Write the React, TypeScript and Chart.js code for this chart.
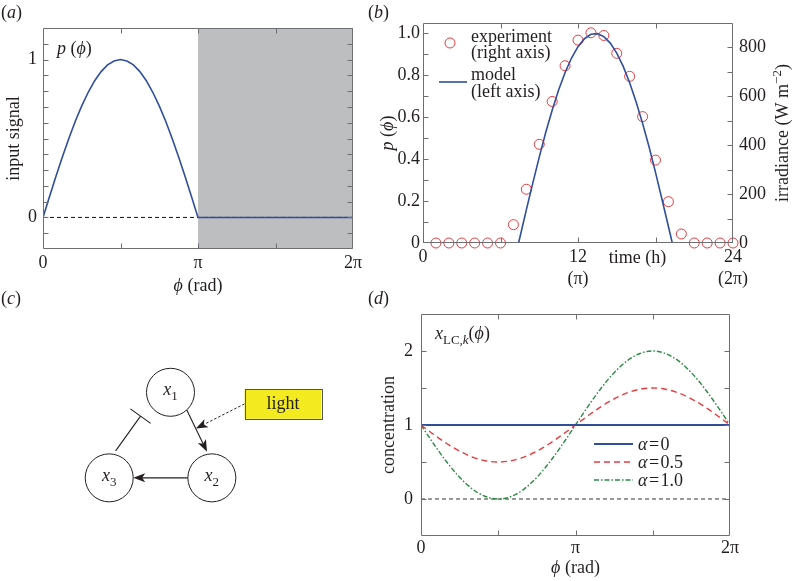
import React, { useEffect, useRef } from 'react';
import { Chart, registerables } from 'chart.js';
Chart.register(...registerables);

const SERIF = '"Liberation Serif", "Times New Roman", serif';
const INK = '#231f20';
const FRAME = '#6d6e71';
const BLUE = '#2f4e9c';
const RED = '#e63b3f';
const GREEN = '#2a8a43';
const SHADE = '#bcbec0';
const PHI = 'ϕ';

// ---------------- (a) input signal (phi in units of pi) ----------------
const phiA = [0, 0.0417, 0.0833, 0.125, 0.1667, 0.2083, 0.25, 0.2917, 0.3333, 0.375, 0.4167, 0.4583, 0.5, 0.5417, 0.5833, 0.625, 0.6667, 0.7083, 0.75, 0.7917, 0.8333, 0.875, 0.9167, 0.9583, 1, 2];
const signalA = [0, 0.131, 0.259, 0.383, 0.5, 0.609, 0.707, 0.793, 0.866, 0.924, 0.966, 0.991, 1, 0.991, 0.966, 0.924, 0.866, 0.793, 0.707, 0.609, 0.5, 0.383, 0.259, 0.131, 0, 0];
const shadeA = [1, 2];
const aXTickVals = [0, 1, 2];
const aXTickText = ['0', 'π', '2π'];
const aYTickVals = [0, 1];
const aYTickText = ['0', '1'];

// ---------------- (b) experiment vs model ----------------
const hoursExp = [1, 2, 3, 4, 5, 6, 7, 8, 9, 10, 11, 12, 13, 14, 15, 16, 17, 18, 19, 20, 21, 22, 23, 24];
const irradianceExp = [0, 0, 0, 0, 0, 0, 75, 220, 404, 579, 725, 830, 860, 849, 776, 682, 517, 339, 169, 37, 0, 0, 0, 0];
const hoursModel = [0, 7.4, 7.5, 8, 8.5, 9, 9.5, 10, 10.5, 11, 11.5, 12, 12.5, 13, 13.5, 14, 14.5, 15, 15.5, 16, 16.5, 17, 17.5, 18, 18.5, 19, 19.3, 24];
const pModel = [0, 0, 0.026, 0.158, 0.286, 0.41, 0.527, 0.634, 0.73, 0.814, 0.883, 0.937, 0.975, 0.996, 0.999, 0.985, 0.954, 0.906, 0.843, 0.765, 0.673, 0.571, 0.459, 0.337, 0.209, 0.079, 0, 0];
const bXTickVals = [0, 12, 24];
const bXTickText = [['0'], ['12', '(π)'], ['24', '(2π)']];
const bYTickVals = [0, 0.2, 0.4, 0.6, 0.8, 1.0];
const bYTickText = ['0', '0.2', '0.4', '0.6', '0.8', '1.0'];
const bY2TickVals = [0, 200, 400, 600, 800];
const bY2TickText = ['0', '200', '400', '600', '800'];

// ---------------- (c) network diagram ----------------
const nodeX = [0.597, 1, 0];
const nodeY = [0.864, 0, 0];
const nodeSub = ['1', '2', '3'];
const edgeFrom = [0, 1, 2];
const edgeTo = [1, 2, 0];
const edgeKind = ['activate', 'activate', 'inhibit'];
const lightBox = { x: 1.692, y: 0.747, w: 0.747, h: 0.302, label: 'light' };

// ---------------- (d) limit cycles ----------------
const phiD = [0, 0.0833, 0.1667, 0.25, 0.3333, 0.4167, 0.5, 0.5833, 0.6667, 0.75, 0.8333, 0.9167, 1, 1.0833, 1.1667, 1.25, 1.3333, 1.4167, 1.5, 1.5833, 1.6667, 1.75, 1.8333, 1.9167, 2];
const alpha0 = [1, 1, 1, 1, 1, 1, 1, 1, 1, 1, 1, 1, 1, 1, 1, 1, 1, 1, 1, 1, 1, 1, 1, 1, 1];
const alpha05 = [1, 0.871, 0.75, 0.646, 0.567, 0.517, 0.5, 0.517, 0.567, 0.646, 0.75, 0.871, 1, 1.129, 1.25, 1.354, 1.433, 1.483, 1.5, 1.483, 1.433, 1.354, 1.25, 1.129, 1];
const alpha10 = [1, 0.741, 0.5, 0.293, 0.134, 0.034, 0, 0.034, 0.134, 0.293, 0.5, 0.741, 1, 1.259, 1.5, 1.707, 1.866, 1.966, 2, 1.966, 1.866, 1.707, 1.5, 1.259, 1];
const alphaLabels = ['0', '0.5', '1.0'];
const dXTickVals = [0, 1, 2];
const dXTickText = ['0', 'π', '2π'];
const dYTickVals = [0, 1, 2];
const dYTickText = ['0', '1', '2'];

// ---------------- helpers ----------------
type Seg = { t: string; it?: boolean; sub?: boolean; sup?: boolean };
const fnt = (size: number, it?: boolean) => `${it ? 'italic ' : ''}${size}px ${SERIF}`;
const segSize = (s: Seg, size: number) => (s.sub || s.sup ? Math.round(size * 0.7) : size);

function drawRich(ctx: any, segs: Seg[], x: number, y: number, size = 18, align = 'left', rot = 0, color = INK) {
  ctx.save();
  ctx.translate(x, y);
  if (rot) ctx.rotate(rot);
  let w = 0;
  for (const s of segs) {
    ctx.font = fnt(segSize(s, size), s.it);
    w += ctx.measureText(s.t).width;
  }
  let cx = align === 'center' ? -w / 2 : align === 'right' ? -w : 0;
  ctx.fillStyle = color;
  ctx.textAlign = 'left';
  ctx.textBaseline = 'alphabetic';
  const base = size * 0.33;
  for (const s of segs) {
    ctx.font = fnt(segSize(s, size), s.it);
    const dy = s.sub ? size * 0.28 : s.sup ? -size * 0.4 : 0;
    ctx.fillText(s.t, cx, base + dy);
    cx += ctx.measureText(s.t).width;
  }
  ctx.restore();
}

const near = (a: number, b: number) => Math.abs(a - b) < 1e-6;
const pick = (vals: number[], texts: any[]) => (v: number) => {
  const i = vals.findIndex((u) => near(u, v));
  return i >= 0 ? texts[i] : '';
};

function framePlugin(id: string, spec: { x: string; xTop: boolean; yl?: string; ylMirror?: boolean; yr?: string }) {
  return {
    id,
    afterDatasetsDraw(chart: any) {
      const { ctx, chartArea: ca, scales } = chart;
      const L = Math.round(ca.left) + 0.5;
      const R = Math.round(ca.right) - 0.5;
      const T = Math.round(ca.top) + 0.5;
      const B = Math.round(ca.bottom) - 0.5;
      const TL = 5;
      ctx.save();
      ctx.strokeStyle = FRAME;
      ctx.lineWidth = 1;
      ctx.beginPath();
      ctx.rect(L, T, R - L, B - T);
      const xs = scales[spec.x];
      for (const t of xs.ticks) {
        const p = Math.round(xs.getPixelForValue(t.value)) + 0.5;
        if (p <= L + 1 || p >= R - 1) continue;
        ctx.moveTo(p, B);
        ctx.lineTo(p, B - TL);
        if (spec.xTop) {
          ctx.moveTo(p, T);
          ctx.lineTo(p, T + TL);
        }
      }
      if (spec.yl) {
        const ys = scales[spec.yl];
        for (const t of ys.ticks) {
          const p = Math.round(ys.getPixelForValue(t.value)) + 0.5;
          if (p <= T + 1 || p >= B - 1) continue;
          ctx.moveTo(L, p);
          ctx.lineTo(L + TL, p);
          if (spec.ylMirror) {
            ctx.moveTo(R, p);
            ctx.lineTo(R - TL, p);
          }
        }
      }
      if (spec.yr) {
        const ys = scales[spec.yr];
        for (const t of ys.ticks) {
          const p = Math.round(ys.getPixelForValue(t.value)) + 0.5;
          if (p <= T + 1 || p >= B - 1) continue;
          ctx.moveTo(R, p);
          ctx.lineTo(R - TL, p);
        }
      }
      ctx.stroke();
      ctx.restore();
    },
  };
}

const tickFont = { family: SERIF, size: 18, lineHeight: 1.2 };
const baseScale = (extra: any) => ({
  type: 'linear',
  grid: { display: false, drawTicks: false },
  border: { display: false },
  ...extra,
});
const baseOptions = (padding: any, scales: any) => ({
  responsive: false,
  animation: false,
  events: [],
  layout: { padding },
  plugins: { legend: { display: false }, tooltip: { enabled: false } },
  scales,
});

function arrowHead(ctx: any, tx: number, ty: number, ux: number, uy: number, len = 12, half = 4.5, notch = 3) {
  const nx = -uy;
  const ny = ux;
  ctx.beginPath();
  ctx.moveTo(tx, ty);
  ctx.lineTo(tx - ux * len + nx * half, ty - uy * len + ny * half);
  ctx.lineTo(tx - ux * (len - notch), ty - uy * (len - notch));
  ctx.lineTo(tx - ux * len - nx * half, ty - uy * len - ny * half);
  ctx.closePath();
  ctx.fill();
}

// ---------------- configs ----------------
function configA(): any {
  return {
    type: 'line',
    data: {
      datasets: [
        {
          data: phiA.map((x, i) => ({ x, y: signalA[i] })),
          borderColor: BLUE,
          borderWidth: 1.6,
          pointRadius: 0,
          tension: 0,
          fill: false,
        },
        {
          data: [{ x: 0, y: 0 }, { x: 2, y: 0 }],
          borderColor: '#111',
          borderWidth: 1,
          borderDash: [4, 3],
          pointRadius: 0,
          fill: false,
        },
      ],
    },
    options: baseOptions({ left: 0, right: 27, top: 28, bottom: 0 }, {
      x: baseScale({
        min: 0, max: 2,
        ticks: { stepSize: 0.5, includeBounds: false, autoSkip: false, maxRotation: 0, padding: 3, color: INK, font: tickFont, callback: pick(aXTickVals, aXTickText) },
        afterFit: (s: any) => { s.height = 51; },
      }),
      y: baseScale({
        min: -0.2, max: 1.2,
        ticks: { stepSize: 0.1, includeBounds: false, autoSkip: false, padding: 6, color: INK, font: tickFont, callback: pick(aYTickVals, aYTickText) },
        afterFit: (s: any) => { s.width = 43; },
      }),
    }),
    plugins: [
      {
        id: 'shadeA',
        beforeDatasetsDraw(chart: any) {
          const { ctx, chartArea: ca, scales } = chart;
          const x0 = scales.x.getPixelForValue(shadeA[0]);
          const x1 = scales.x.getPixelForValue(shadeA[1]);
          ctx.save();
          ctx.fillStyle = SHADE;
          ctx.fillRect(x0, ca.top, x1 - x0, ca.bottom - ca.top);
          ctx.restore();
        },
      },
      framePlugin('frameA', { x: 'x', xTop: true, yl: 'y', ylMirror: true }),
      {
        id: 'textA',
        afterDraw(chart: any) {
          const { ctx, chartArea: ca } = chart;
          drawRich(ctx, [{ t: '(' }, { t: 'a', it: true }, { t: ')' }], 1, 12);
          drawRich(ctx, [{ t: 'input signal' }], 13, (ca.top + ca.bottom) / 2, 18, 'center', -Math.PI / 2);
          drawRich(ctx, [{ t: PHI, it: true }, { t: ' (rad)' }], (ca.left + ca.right) / 2, 285, 18, 'center');
          drawRich(ctx, [{ t: 'p', it: true }, { t: ' (' }, { t: PHI, it: true }, { t: ')' }], ca.left + 14, ca.top + 20);
        },
      },
    ],
  };
}

function configB(): any {
  return {
    type: 'line',
    data: {
      datasets: [
        {
          data: hoursModel.map((x, i) => ({ x, y: pModel[i] })),
          yAxisID: 'y',
          borderColor: BLUE,
          borderWidth: 1.6,
          pointRadius: 0,
          tension: 0,
          fill: false,
        },
        {
          data: hoursExp.map((x, i) => ({ x, y: irradianceExp[i] })),
          yAxisID: 'y2',
          showLine: false,
          pointStyle: 'circle',
          pointRadius: 5,
          pointBorderWidth: 1,
          pointBorderColor: RED,
          pointBackgroundColor: 'rgba(0,0,0,0)',
          borderColor: RED,
          clip: false,
        },
      ],
    },
    options: baseOptions({ left: 0, right: 0, top: 23, bottom: 0 }, {
      x: baseScale({
        min: 0, max: 24,
        ticks: { stepSize: 6, includeBounds: false, autoSkip: false, maxRotation: 0, padding: 3, color: INK, font: { family: SERIF, size: 18, lineHeight: 1.25 }, callback: pick(bXTickVals, bXTickText) },
        afterFit: (s: any) => { s.height = 57; },
      }),
      y: baseScale({
        position: 'left',
        min: 0, max: 1.05,
        ticks: { stepSize: 0.1, includeBounds: false, autoSkip: false, padding: 3, color: INK, font: tickFont, callback: pick(bYTickVals, bYTickText) },
        afterFit: (s: any) => { s.width = 63; },
      }),
      y2: baseScale({
        position: 'right',
        min: 0, max: 900,
        ticks: { stepSize: 100, includeBounds: false, autoSkip: false, padding: 6, color: INK, font: tickFont, callback: pick(bY2TickVals, bY2TickText) },
        afterFit: (s: any) => { s.width = 59; },
      }),
    }),
    plugins: [
      framePlugin('frameB', { x: 'x', xTop: true, yl: 'y', yr: 'y2' }),
      {
        id: 'textB',
        afterDraw(chart: any) {
          const { ctx, chartArea: ca, scales } = chart;
          const cy = (ca.top + ca.bottom) / 2;
          drawRich(ctx, [{ t: '(' }, { t: 'b', it: true }, { t: ')' }], 8, 12);
          drawRich(ctx, [{ t: 'p', it: true }, { t: ' (' }, { t: PHI, it: true }, { t: ')' }], 27, cy, 18, 'center', -Math.PI / 2);
          drawRich(ctx, [{ t: 'irradiance (W m' }, { t: '−2', sup: true }, { t: ')' }], 422, cy, 18, 'center', -Math.PI / 2);
          drawRich(ctx, [{ t: 'time (h)' }], scales.x.getPixelForValue(16.6), ca.bottom + 14, 18, 'center');
          // legend
          ctx.save();
          ctx.strokeStyle = RED;
          ctx.lineWidth = 1;
          ctx.beginPath();
          ctx.arc(ca.left + 27, ca.top + 20, 5, 0, Math.PI * 2);
          ctx.stroke();
          ctx.strokeStyle = BLUE;
          ctx.lineWidth = 1.6;
          ctx.beginPath();
          ctx.moveTo(ca.left + 16, ca.top + 59);
          ctx.lineTo(ca.left + 44, ca.top + 59);
          ctx.stroke();
          ctx.restore();
          drawRich(ctx, [{ t: 'experiment' }], ca.left + 48, ca.top + 13);
          drawRich(ctx, [{ t: '(right axis)' }], ca.left + 48, ca.top + 29);
          drawRich(ctx, [{ t: 'model' }], ca.left + 48, ca.top + 51);
          drawRich(ctx, [{ t: '(left axis)' }], ca.left + 48, ca.top + 68);
        },
      },
    ],
  };
}

function configC(): any {
  return {
    type: 'scatter',
    data: {
      datasets: [
        {
          data: nodeX.map((x, i) => ({ x, y: nodeY[i] })),
          pointStyle: 'circle',
          pointRadius: 24,
          pointHoverRadius: 24,
          pointBackgroundColor: '#ffffff',
          pointBorderColor: INK,
          pointBorderWidth: 1,
          clip: false,
        },
      ],
    },
    options: baseOptions(0, {
      x: { type: 'linear', display: false, min: -0.8205, max: 2.1997 },
      y: { type: 'linear', display: false, min: -0.789, max: 1.695 },
    }),
    plugins: [
      {
        id: 'edgesC',
        beforeDatasetsDraw(chart: any) {
          const { ctx, scales } = chart;
          const xs = scales.x;
          const ys = scales.y;
          const P = (i: number) => ({ x: xs.getPixelForValue(nodeX[i]), y: ys.getPixelForValue(nodeY[i]) });
          const offs = [-7, 0, -10.5];
          const starts = [21, 24, 25.7];
          const gaps = [25.5, 24, 36.8];
          ctx.save();
          ctx.strokeStyle = INK;
          ctx.fillStyle = INK;
          ctx.lineWidth = 1.1;
          let lightTarget: any = null;
          edgeFrom.forEach((f, k) => {
            const a = P(f);
            const b = P(edgeTo[k]);
            const dx = b.x - a.x;
            const dy = b.y - a.y;
            const Ln = Math.hypot(dx, dy);
            const ux = dx / Ln;
            const uy = dy / Ln;
            const nx = -uy;
            const ny = ux;
            const sx = a.x + ux * starts[k] + nx * offs[k];
            const sy = a.y + uy * starts[k] + ny * offs[k];
            const ex = a.x + ux * (Ln - gaps[k]) + nx * offs[k];
            const ey = a.y + uy * (Ln - gaps[k]) + ny * offs[k];
            ctx.beginPath();
            ctx.moveTo(sx, sy);
            if (edgeKind[k] === 'activate') {
              ctx.lineTo(ex - ux * 8, ey - uy * 8);
              ctx.stroke();
              arrowHead(ctx, ex, ey, ux, uy);
              if (k === 0) lightTarget = { x: sx + (ex - sx) * 0.467, y: sy + (ey - sy) * 0.467 };
            } else {
              ctx.lineTo(ex, ey);
              ctx.moveTo(ex + nx * 12.5, ey + ny * 12.5);
              ctx.lineTo(ex - nx * 12.5, ey - ny * 12.5);
              ctx.stroke();
            }
          });
          const bx0 = xs.getPixelForValue(lightBox.x - lightBox.w / 2);
          const bx1 = xs.getPixelForValue(lightBox.x + lightBox.w / 2);
          const by0 = ys.getPixelForValue(lightBox.y + lightBox.h / 2);
          const by1 = ys.getPixelForValue(lightBox.y - lightBox.h / 2);
          if (lightTarget) {
            const sx = bx0;
            const sy = (by0 + by1) / 2;
            const dx = lightTarget.x - sx;
            const dy = lightTarget.y - sy;
            const Ln = Math.hypot(dx, dy);
            const ux = dx / Ln;
            const uy = dy / Ln;
            ctx.setLineDash([2.5, 2]);
            ctx.lineWidth = 1;
            ctx.beginPath();
            ctx.moveTo(sx, sy);
            ctx.lineTo(lightTarget.x - ux * 8, lightTarget.y - uy * 8);
            ctx.stroke();
            ctx.setLineDash([]);
            arrowHead(ctx, lightTarget.x, lightTarget.y, ux, uy);
          }
          ctx.fillStyle = '#f3ea1f';
          ctx.fillRect(bx0, by0, bx1 - bx0, by1 - by0);
          ctx.strokeStyle = '#555';
          ctx.lineWidth = 1;
          ctx.strokeRect(Math.round(bx0) + 0.5, Math.round(by0) + 0.5, Math.round(bx1 - bx0), Math.round(by1 - by0));
          ctx.restore();
          drawRich(ctx, [{ t: lightBox.label }], (bx0 + bx1) / 2, (by0 + by1) / 2 - 1, 18, 'center');
        },
        afterDraw(chart: any) {
          const { ctx, scales } = chart;
          drawRich(ctx, [{ t: '(' }, { t: 'c', it: true }, { t: ')' }], 1, 13);
          nodeX.forEach((x, i) => {
            const px = scales.x.getPixelForValue(x);
            const py = scales.y.getPixelForValue(nodeY[i]);
            drawRich(ctx, [{ t: 'x', it: true }, { t: nodeSub[i], sub: true }], px, py - 3, 18, 'center');
          });
        },
      },
    ],
  };
}

function configD(): any {
  return {
    type: 'line',
    data: {
      datasets: [
        {
          data: phiD.map((x, i) => ({ x, y: alpha0[i] })),
          borderColor: BLUE,
          borderWidth: 1.8,
          pointRadius: 0,
          fill: false,
        },
        {
          data: phiD.map((x, i) => ({ x, y: alpha05[i] })),
          borderColor: RED,
          borderWidth: 1.4,
          borderDash: [6, 4],
          pointRadius: 0,
          cubicInterpolationMode: 'monotone',
          fill: false,
        },
        {
          data: phiD.map((x, i) => ({ x, y: alpha10[i] })),
          borderColor: GREEN,
          borderWidth: 1.4,
          borderDash: [5, 2, 1.5, 2],
          pointRadius: 0,
          cubicInterpolationMode: 'monotone',
          fill: false,
        },
        {
          data: [{ x: 0, y: 0 }, { x: 2, y: 0 }],
          borderColor: '#333',
          borderWidth: 1,
          borderDash: [4, 3],
          pointRadius: 0,
          fill: false,
        },
      ],
    },
    options: baseOptions({ left: 0, right: 62, top: 29, bottom: 0 }, {
      x: baseScale({
        min: 0, max: 2,
        ticks: { stepSize: 0.5, includeBounds: false, autoSkip: false, maxRotation: 0, padding: 1, color: INK, font: tickFont, callback: pick(dXTickVals, dXTickText) },
        afterFit: (s: any) => { s.height = 45; },
      }),
      y: baseScale({
        min: -0.5, max: 2.5,
        ticks: { stepSize: 0.5, includeBounds: false, autoSkip: false, padding: 8, color: INK, font: tickFont, callback: pick(dYTickVals, dYTickText) },
        afterFit: (s: any) => { s.width = 61; },
      }),
    }),
    plugins: [
      framePlugin('frameD', { x: 'x', xTop: true, yl: 'y', ylMirror: true }),
      {
        id: 'textD',
        afterDraw(chart: any) {
          const { ctx, chartArea: ca } = chart;
          drawRich(ctx, [{ t: '(' }, { t: 'd', it: true }, { t: ')' }], 8, 13);
          drawRich(ctx, [{ t: 'concentration' }], 28, (ca.top + ca.bottom) / 2, 18, 'center', -Math.PI / 2);
          drawRich(ctx, [{ t: PHI, it: true }, { t: ' (rad)' }], (ca.left + ca.right) / 2, 282, 18, 'center');
          drawRich(ctx, [{ t: 'x', it: true }, { t: 'LC,', sub: true }, { t: 'k', sub: true, it: true }, { t: '(' }, { t: PHI, it: true }, { t: ')' }], ca.left + 14, ca.top + 19);
          const styles = [
            { c: BLUE, w: 1.8, d: [] as number[] },
            { c: RED, w: 1.4, d: [6, 4] },
            { c: GREEN, w: 1.4, d: [5, 2, 1.5, 2] },
          ];
          styles.forEach((st, i) => {
            const y = ca.top + 130 + i * 18;
            ctx.save();
            ctx.strokeStyle = st.c;
            ctx.lineWidth = st.w;
            ctx.setLineDash(st.d);
            ctx.beginPath();
            ctx.moveTo(ca.left + 173, y);
            ctx.lineTo(ca.left + 212, y);
            ctx.stroke();
            ctx.restore();
            drawRich(ctx, [{ t: 'α', it: true }, { t: '\u200A=\u200A' + alphaLabels[i] }], ca.left + 217, y);
          });
        },
      },
    ],
  };
}

function ChartBox({ left, top, width, height, make }: any) {
  const ref = useRef<HTMLCanvasElement>(null);
  useEffect(() => {
    const chart = new Chart(ref.current as HTMLCanvasElement, make());
    return () => chart.destroy();
  }, []);
  return (
    <canvas
      ref={ref}
      width={width}
      height={height}
      style={{ position: 'absolute', left, top, width, height }}
    />
  );
}

export default function App() {
  return (
    <div style={{ position: 'fixed', left: 0, top: 0, width: 792, height: 581, background: '#ffffff', overflow: 'hidden' }}>
      <ChartBox left={0} top={0} width={380} height={300} make={configA} />
      <ChartBox left={360} top={0} width={432} height={300} make={configB} />
      <ChartBox left={0} top={285} width={360} height={296} make={configC} />
      <ChartBox left={360} top={285} width={432} height={296} make={configD} />
    </div>
  );
}
